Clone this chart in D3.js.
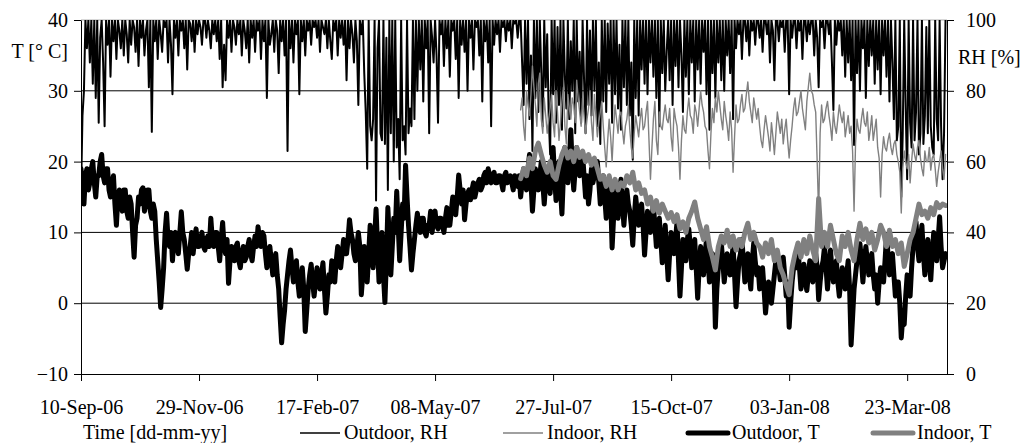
<!DOCTYPE html>
<html><head><meta charset="utf-8">
<script src="https://cdn.jsdelivr.net/npm/d3@7"></script>
<style>
body{margin:0;background:#fff}
svg{display:block}
svg text{font-family:"Liberation Serif","Times New Roman",serif;font-size:20px;fill:#000}
</style>
</head><body>
<svg id="chart" width="1024" height="443"></svg>
<script>
// ---------- data ----------
const xTickLabels = ["10-Sep-06","29-Nov-06","17-Feb-07","08-May-07","27-Jul-07","15-Oct-07","03-Jan-08","23-Mar-08"];
const axisStart = "10-Sep-06";
const axisEnd = "19-Apr-08";
const tTicks = [-10,0,10,20,30,40];
const rhTicks = [0,20,40,60,80,100];
const outdoorStart = "10-Sep-06";   // daily values
const indoorStart = "05-Jul-07";
const outdoorStep = 1;
const indoorRHStep = 1;
const indoorTStep = 2;
const legendLabels = ["Outdoor, RH","Indoor, RH","Outdoor, T","Indoor, T"];

const outdoorT = [
19,17,14,18,19,16,17,19,20,17,
15,18,18,20,21,18,17,19,19,16,
15,17,18,14,11,15,16,14,13,16,
16,13,12,15,14,10,6.5,11,12,15,
14,16,16.3,13,14,16,16,13,12,14,
13,9,6,3,-0.6,2,5,10,12.7,9,
8,10,6,9,10,8,7,10,12.9,10,
9,7,4.8,7,8,10,7,9,10.5,8,
8,9,10,8,7.5,9,9.5,8,12,9,
8,10,10,8,6,9,11.4,8,7,9,
2.8,6,8,7,6,8,8.5,6,5,7,
8,6,6.5,8,9,7,6,8,9.5,8,
10.8,9,8,10,9.5,7,5,7,8,6,
4,6,7,4,2,-2,-5.6,-3,-1,2,
4,6,7.5,5,3,5,6,3,1,3,
5,2,-4,-1,2,4,5.5,3,1,3,
5,3,2,4,5.7,2,-1.4,1,4,3,
6,4,3,6,8,6,5,7,9,7,
7,9,11.8,10,9,7,6,8,10,8,
1.2,4,8,6,3,7,11,8,5,9,
13.3,8,3,7,10,4,0.1,6,13.5,9,
4,8,12,10,15.8,11,6,10,14,12,
19.5,15,11,8,4.7,7,9,11,12.7,11,
10,12,12,10,9.5,11,11,13,10,12,
13,11,10.5,12,12,11,10,12,13.5,11,
11,13,15,14,12.5,15,18.1,16,14,16,
11.8,14,15.5,16,14.6,16,17,15,16,17,
17.5,16,16.5,18,18.5,17,19,18,17,18,
18.5,17,17,18,18,17,16,18,18.5,17,
17.5,18,17,16,18,17,16.5,18,15,17,
19,17,16,19,21,17,13,16,19,17,
16,18,20,17,14,17,19,17,15.5,19,
22,18,14.5,17,20,16,12.6,18,22,19,
17,20,24.5,19,16,19,22,19,18,20,
21,18,15,18,14,16,19,17,18,20,
20,17,14,16,18,15,12,15,17,15,
7.8,12,16,14,12,15,17.5,14,11,14,
16,14,13,11,8.2,12,15,13,11,13,
14,11,6.8,10,13,11,10,12,14,11,
8,11,12,9,5.7,8,11,7,3.3,7,
10,8,7,9,11.5,6,1,5,9,7,
6,9,10.5,8,5,7,9,5,0.7,5,
8,6,4,7,9,6,3,6,7,5,
-3.4,2,5,7,8.5,6,3,5,7,5,
4,6,8,4,-0.5,3,6,7,9,6,
3,5,7,4,2,6,8.5,6,4,5,
2,4,5,2,-1.4,1,3,2,0,2,
4,6,7,5,3.3,5,6.5,4,1,3,
-3.4,0,3,5,6,5,7.5,5,2,4,
5.5,3,1.8,4,6,4,3,5,7,5,
0.5,3,5,6,8,5,2,5,7.5,5,
3,5,6,3,1,3,5,4,2,4,
6,2,-5.9,-2,2,4,6,7,8.4,6,
3,6,8,6,4,6,7,4,2,4,
0,3,5,4,3,6,9.5,7,4,6,
7,4,1,3,3,0,-4.9,-2,-3,1,
4,2,1,5,8,10,11.5,8,6,9,
11,7,4,7,9,6,3.3,7,10,8,
6,9,12.2,8,5,6,7];

const outdoorRH = [
50,73,80,100,92,100,88,100,82,100,
78,100,71,95,100,88,70,100,93,100,
84,100,94,100,89,100,97,92,100,90,
100,96,88,100,93,100,98,91,100,87,
100,95,100,90,97,100,81,100,68.4,100,
94,100,89,100,96,91,100,98,100,88,
100,93,79,100,95,100,90,100,97,100,
92,100,86,100,99,94,100,91,100,96,
100,98,93,100,100,95,100,97,92,100,
96,100,94,100,89,100,81,93,83,100,
95,100,91,100,98,93,100,96,100,90,
100,97,92,100,88,100,95,100,91,100,
97,100,89,100,94,100,78,100,93,96,
100,91,100,97,85,100,94,100,90,100,
63,100,92,100,88,100,96,100,79,100,
94,100,90,100,97,100,93,100,98,100,
95,100,91,100,98,96,100,92,100,94,
89,100,97,100,90,100,95,100,93,100,
83,100,92,100,96,88,100,94,76,100,
96,100,85,74,58,100,70,66,72,100,
49,92,100,68,66,100,65,95,52,100,
68,100,60,100,64,72,55,100,66,70,
62,100,68,75,70,100,72,100,80,100,
86,100,77,100,92,100,68,100,95,88,
100,90,71,100,96,100,87,100,92,100,
84,100,97,100,89,100,78,100,93,100,
91,100,80,100,95,100,86,100,98,100,
90,100,77,100,94,100,88,100,70,100,
93,100,96,100,91,100,98,100,94,100,
97,100,92,100,99,100,95,100,100,88,
76,100,82,100,72,90,63,100,78,100,
74,100,85,70,100,81,96,73,62,100,
79,100,71,98,76,100,69,100,84,75,
100,72,94,80,100,68,100,77,91,71,
100,83,68,100,76,97,73,100,80,100,
70,88,65,100,77,100,74,99,82,100,
71,100,79,100,75,93,69,100,81,100,
76,100,73,88,60.5,100,78,100,73,100,
86,100,82,100,79,100,88,100,84,100,
78,100,70,100,85,100,80,91,100,83,
100,76,100,87,100,81,100,90,74,100,
84,100,79,100,88,100,77,100,86,100,
82,100,91,100,79,100,69,100,85,100,
78,100,88,100,83,100,80,100,90,100,
85,100,72,100,92,100,96,100,89,100,
100,94,100,90,100,97,100,93,100,100,
95,100,91,100,100,96,100,88,100,97,
83,100,100,94,100,98,100,91,100,100,
79,100,95,100,100,92,100,97,100,89,
100,100,94,100,96,100,100,90,100,95,
81,100,98,100,92,100,100,96,100,88,
74.6,100,93,100,97,100,90,100,84,100,
88,100,83,100,64.7,100,85,100,80,100,
92,100,78,100,87,100,90,100,82,100,
86,100,79,100,90,100,84,100,77,100,
88,72,100,66,70,100,50,68,100,75,
55,100,71,64,100,66,74,100,62,68,
100,65,73,98,68,100,70,64,62,100,
72,66,100,70,55,68,100];

const indoorT = [
17.6,19,18,20.5,19,21.5,22.6,21,19.5,18.5,
20,18,17.5,19.5,21,22,20.5,21.5,20,22,
20.6,21.5,20,21,19.5,20.5,19,17.5,18,16.5,
18,16,17.5,16,17,16.5,18,17,18.5,16,
17,15.5,16,14,15,13,14.5,12.7,14,13,
12,12.8,11.5,12.5,10.5,11.5,10,12,13,14.3,
12,10.5,9,10.8,8,6.5,4.7,8,9.5,8.5,
10.3,8,9.5,7.5,9,8,10,11.3,9,10,
8.5,8,6.5,8.5,7,9,6,7.5,5,4,
2.5,1.2,5,7,8.5,6.5,9,7,9.5,7.5,
6,14.8,8,10,8,11,9,7,6,9.5,
8,10,7.5,6,9,11.3,9,10.5,8.5,10,
7.5,9,11,10,8,10.3,8,9,7,8.5,
5.2,7,9,10,12,14,12.5,13,12,13.5,
12.5,14.2,13.5,14,13.8];

const indoorRH = [
74.6,78,70,66,80,76,73,79,87,81,76,70,82,85,72,68,78,73,68,72,
75,79,71,67,80,74,66,71,77,81,70,65,79,75,72,78,76,71,83,78,
74,70,78,73,68,72,75,80,71,66,79,73,67,71,74,77,70,64,58.5,66,
72,67,60,69,76,72,68,73,74,69,65,70,72,76,69,64,61,68,73,70,
67,72,75,69,70,74,77,66,55,64,72,77,66,62,74,70,69,73,76,72,
71,75,67,63,75,72,70,64,55,66,73,69,68,74,78,73,72,68,76,74,
70,75,80,76,74,70,69,63,58,68,75,71,78,74,80,76,72,69,77,73,
70,66,74,69,57,67,76,71,72,76,79,74,75,79,82.5,77,74,71,78,75,
72,75,70,66,64,69,73,70,67,63,71,67,62,68,74,71,68,72,65,69,
72,66,61,66,70,75,78,73,74,77,80,75,72,69,77,81,85,80,79,76,
74,60,45,68,76,71,72,75,77,73,70,66,74,70,68,72,76,73,71,74,
67,70,73,68,70,63,46,65,72,69,68,72,75,71,70,74,66,69,73,66,
69,72,64,61,50,62,67,64,63,66,68,64,62,65,66,62,60,57,45.5,58,
63,60,58,62,54,60,65,62,60,64,66,61,58,56,63,60,60,64,57.6,61,
62,58,53,57,60,63,58,55,62];

// ---------- chart ----------
const W = 1024, H = 443;
const M = {left:81, right:77, top:20, bottom:69};
const parse = d3.utcParse("%d-%b-%y");
const svg = d3.select("#chart");

const x = d3.scaleUtc().domain([parse(axisStart), parse(axisEnd)]).range([M.left, W - M.right]);
const yT = d3.scaleLinear().domain([-10, 40]).range([H - M.bottom, M.top]);
const yRH = d3.scaleLinear().domain([0, 100]).range([H - M.bottom, M.top]);

function toPoints(start, step, vals){
  const s = parse(start);
  return vals.map((v,i)=>({d:d3.utcDay.offset(s, i*step), v}));
}

svg.append("defs").append("clipPath").attr("id","clip")
  .append("rect").attr("x",M.left).attr("y",M.top)
  .attr("width",W-M.left-M.right).attr("height",H-M.top-M.bottom);

// gridlines
svg.append("g").selectAll("line").data(tTicks.filter(t=>t>-10)).join("line")
  .attr("x1",M.left).attr("x2",W-M.right)
  .attr("y1",d=>yT(d)).attr("y2",d=>yT(d))
  .attr("stroke", d=> d===40 ? "#b0b0b0" : "#000").attr("stroke-width",1);

const plot = svg.append("g").attr("clip-path","url(#clip)");
const lineT = d3.line().x(p=>x(p.d)).y(p=>yT(p.v));
const lineRH = d3.line().x(p=>x(p.d)).y(p=>yRH(p.v));

const series = [
  {pts:toPoints(outdoorStart,outdoorStep,outdoorRH), gen:lineRH, color:"#000", w:2, lw:1.4},
  {pts:toPoints(indoorStart,indoorRHStep,indoorRH), gen:lineRH, color:"#808080", w:1.4, lw:1.4},
  {pts:toPoints(outdoorStart,outdoorStep,outdoorT), gen:lineT, color:"#000", w:5, lw:5},
  {pts:toPoints(indoorStart,indoorTStep,indoorT), gen:lineT, color:"#808080", w:5, lw:5}
];
series.forEach(s=>{
  plot.append("path").attr("d", s.gen(s.pts)).attr("fill","none")
    .attr("stroke", s.color).attr("stroke-width", s.w)
    .attr("stroke-linejoin","round").attr("stroke-linecap","round");
});

// axes
const xTicks = xTickLabels.map(parse);
const xAxis = d3.axisBottom(x).tickValues(xTicks).tickFormat((d,i)=>xTickLabels[i]).tickSizeInner(7).tickSizeOuter(0).tickPadding(19);
const gx = svg.append("g").attr("transform",`translate(0,${H-M.bottom})`).call(xAxis);
const gl = svg.append("g").attr("transform",`translate(${M.left},0)`)
  .call(d3.axisLeft(yT).tickValues(tTicks).tickSizeInner(7).tickSizeOuter(0).tickPadding(6));
const gr = svg.append("g").attr("transform",`translate(${W-M.right},0)`)
  .call(d3.axisRight(yRH).tickValues(rhTicks).tickSizeInner(7).tickSizeOuter(0).tickPadding(12));
[gx,gl,gr].forEach(g=>{
  g.attr("font-size",null).attr("font-family",null);
  g.selectAll("path,line").attr("stroke","#000").attr("stroke-width",1);
});

// axis titles
svg.append("text").attr("x",68).attr("y",58).attr("text-anchor","end").text("T [° C]");
svg.append("text").attr("x",958).attr("y",64).text("RH [%]");
svg.append("text").attr("x",83).attr("y",439).text("Time [dd-mm-yy]");

// legend
const legX = [300, 503, 688, 873];
const leg = svg.append("g");
series.forEach((s,i)=>{
  leg.append("line").attr("x1",legX[i]).attr("x2",legX[i]+40).attr("y1",433).attr("y2",433)
    .attr("stroke",s.color).attr("stroke-width",s.lw).attr("stroke-linecap", s.lw>2?"round":"butt");
  leg.append("text").attr("x",legX[i]+44).attr("y",439).text(legendLabels[i]);
});
</script>
</body></html>
